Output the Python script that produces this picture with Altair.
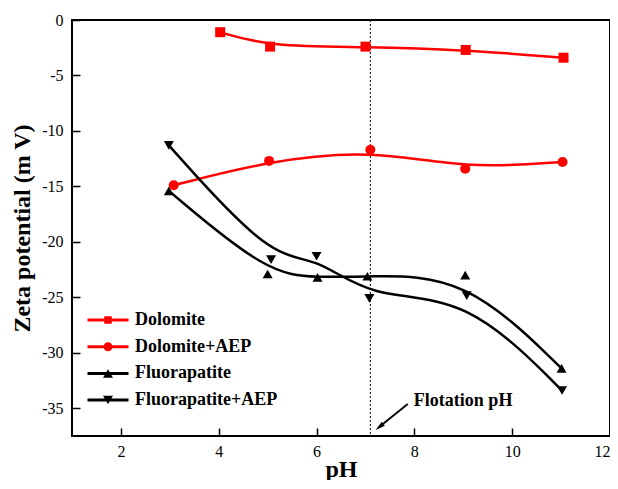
import altair as alt
import pandas as pd

# ---------------- data ----------------
series_names = ["Dolomite", "Dolomite+AEP", "Fluorapatite", "Fluorapatite+AEP"]
series_colors = ["#ff0000", "#ff0000", "#000000", "#000000"]

dolomite_ph = [4.03, 5.05, 7.0, 9.05, 11.05]
dolomite_zeta = [-1.1, -2.4, -2.4, -2.7, -3.4]

dolomite_aep_ph = [3.08, 5.03, 7.1, 9.04, 11.03]
dolomite_aep_zeta = [-14.9, -12.7, -11.7, -13.4, -12.8]

fluor_ph = [2.98, 5.0, 6.02, 7.04, 9.04, 11.01]
fluor_zeta = [-15.4, -22.9, -23.2, -23.1, -23.0, -31.4]

fluor_aep_ph = [2.98, 5.07, 6.0, 7.08, 9.07, 11.02]
fluor_aep_zeta = [-11.3, -21.6, -21.3, -25.1, -24.85, -33.4]

x_ticks = [2, 4, 6, 8, 10, 12]
y_ticks = [0, -5, -10, -15, -20, -25, -30, -35]
x_domain = [1, 12]
y_domain = [-37.5, 0]

flotation_ph = 7.1
annotation_text = "Flotation pH"
arrow_from = (7.865, -34.62)
arrow_to = (7.286, -36.67)
annotation_pos = (7.99, -34.77)

FONT = "Liberation Serif"

# ---------------- table ----------------
rows = []
for name, xs, ys in [
    (series_names[0], dolomite_ph, dolomite_zeta),
    (series_names[1], dolomite_aep_ph, dolomite_aep_zeta),
    (series_names[2], fluor_ph, fluor_zeta),
    (series_names[3], fluor_aep_ph, fluor_aep_zeta),
]:
    for x, y in zip(xs, ys):
        rows.append({"series": name, "pH": x, "zeta": y})
df = pd.DataFrame(rows)

base = alt.Chart(df)

x_enc = alt.X(
    "pH:Q",
    scale=alt.Scale(domain=x_domain, nice=False, zero=False),
    axis=alt.Axis(
        values=x_ticks, title="pH", grid=False, domain=False,
        tickSize=8, offset=-8, tickColor="black", tickWidth=1.5,
        labelPadding=7, labelFont=FONT, labelFontSize=16, labelColor="black",
        labelFlush=True,
        titleFont=FONT, titleFontSize=24, titleFontWeight="bold",
        titleColor="black", titleBaseline="alphabetic", titleY=48,
    ),
)
y_enc = alt.Y(
    "zeta:Q",
    scale=alt.Scale(domain=y_domain, nice=False, zero=False),
    axis=alt.Axis(
        values=y_ticks, title="Zeta potential (m V)", grid=False, domain=False,
        tickSize=8, offset=-8, tickColor="black", tickWidth=1.5,
        labelPadding=9, labelFont=FONT, labelFontSize=16, labelColor="black",
        labelExpr="'' + datum.value", labelFlush=False,
        titleFont=FONT, titleFontSize=24, titleFontWeight="bold",
        titleColor="black", titlePadding=7,
    ),
)

color_plain = alt.Color(
    "series:N", scale=alt.Scale(domain=series_names, range=series_colors), legend=None
)

lines = base.mark_line(interpolate="basis", strokeWidth=2.5).encode(
    x=x_enc, y=y_enc, color=color_plain, detail="series:N"
)

points = base.mark_point(filled=True, size=100, opacity=1, strokeWidth=0).encode(
    x="pH:Q",
    y="zeta:Q",
    color=color_plain,
    shape=alt.Shape(
        "series:N",
        scale=alt.Scale(
            domain=series_names,
            range=["square", "circle", "triangle-up", "triangle-down"],
        ),
        legend=None,
    ),
)

# legend: marker + line segment drawn as custom symbol paths
bar = "M-4.1,-0.3H4.1V0.3H-4.1Z"
legend_paths = [
    bar + "M-0.75,-0.75H0.75V0.75H-0.75Z",
    bar + "M-0.9,0A0.9,0.9,0,1,1,0.9,0A0.9,0.9,0,1,1,-0.9,0Z",
    bar + "M0,-0.85L1,0.85L-1,0.85Z",
    bar + "M0,0.85L-1,-0.85L1,-0.85Z",
]
leg = alt.Legend(
    title=None, orient="none", legendX=27, legendY=291,
    symbolSize=100, labelOffset=18, rowPadding=8.7, padding=0,
    labelFont=FONT, labelFontSize=18, labelFontWeight="bold", labelColor="black",
    symbolOpacity=1, symbolStrokeWidth=0,
)
legend_layer = base.transform_filter("false").mark_point(
    filled=True, size=100, opacity=1, strokeWidth=0
).encode(
    x="pH:Q",
    y="zeta:Q",
    color=alt.Color("series:N", scale=alt.Scale(domain=series_names, range=series_colors), legend=leg),
    shape=alt.Shape("series:N", scale=alt.Scale(domain=series_names, range=legend_paths), legend=leg),
)

vline = alt.Chart(pd.DataFrame({"ph": [flotation_ph]})).mark_rule(
    color="black", strokeWidth=1, strokeDash=[2, 2]
).encode(x="ph:Q")

arrow_line = alt.Chart(
    pd.DataFrame({"x1": [arrow_from[0]], "y1": [arrow_from[1]], "x2": [arrow_to[0]], "y2": [arrow_to[1]]})
).mark_rule(color="black", strokeWidth=1.8).encode(
    x=alt.X("x1:Q"), y=alt.Y("y1:Q"), x2="x2:Q", y2="y2:Q"
)

arrow_head = alt.Chart(pd.DataFrame({"x": [arrow_to[0]], "y": [arrow_to[1]]})).mark_point(
    shape="M0,-1L0.5,1L-0.5,1Z", filled=True, size=100, angle=231.5,
    color="black", opacity=1, strokeWidth=0,
).encode(x="x:Q", y="y:Q")

label = alt.Chart(
    pd.DataFrame({"x": [annotation_pos[0]], "y": [annotation_pos[1]], "t": [annotation_text]})
).mark_text(
    align="left", baseline="alphabetic", font=FONT, fontSize=18,
    fontWeight="bold", color="black",
).encode(x="x:Q", y="y:Q", text="t:N")

chart = (
    alt.layer(vline, lines, points, legend_layer, arrow_line, arrow_head, label)
    .resolve_scale(color="independent", shape="independent")
    .properties(
        width=538,
        height=416,
        padding={"left": 64, "top": 12, "right": 0, "bottom": 44},
        autosize=alt.AutoSizeParams(type="none"),
    )
    .configure_view(stroke="black", strokeWidth=2)
)

chart.save("out.html", embed_options={"renderer": "svg", "actions": False})
